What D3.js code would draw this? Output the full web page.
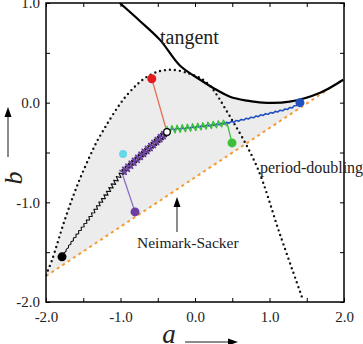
<!DOCTYPE html>
<html>
<head>
<meta charset="utf-8">
<title>bifurcation diagram</title>
<script src="https://cdnjs.cloudflare.com/ajax/libs/d3/7.8.5/d3.min.js"></script>
<style>
  body { margin: 0; background: #fff; }
  svg { display: block; }
</style>
</head>
<body>
<div id="container"></div>
<script>
// ---- data (a, b) ----
var tangentA = [-1.01, -0.74, -0.47, -0.20, 0.07, 0.24, 0.47, 0.70, 0.91, 1.27, 1.68, 1.99];
var tangentB = [ 1.00,  0.82,  0.63,  0.37, 0.23, 0.15, 0.06, 0.02, 0.00, 0.01, 0.10, 0.23];

var pdA = [-2.00, -1.92, -1.75, -1.57, -1.37, -1.28, -0.91, -0.60, -0.34, -0.07, 0.16,  0.47,  0.83,  1.14,  1.44];
var pdB = [-1.73, -1.58, -1.18, -0.81, -0.47, -0.34,  0.08,  0.28,  0.33,  0.29, 0.20, -0.14, -0.64, -1.32, -1.96];

var nsA = [-2.0, 2.0];
var nsB = [-1.74, 0.24];

// orbits
var blackA = [-1.785, -1.64, -1.41, -1.18, -0.98, -0.68, -0.376];
var blackB = [-1.547, -1.38, -1.15, -0.91, -0.705, -0.50, -0.294];
var purpleA = [-0.98, -0.68, -0.376];
var purpleB = [-0.705, -0.50, -0.294];
var greenA = [-0.376, 0.03, 0.43];
var greenB = [-0.273, -0.243, -0.203];
var blueA = [-0.376, 0.03, 0.43, 0.91, 1.315, 1.409];
var blueB = [-0.273, -0.243, -0.203, -0.123, -0.043, 0.0];

// end points and connectors
var dotNames = ["red", "purple", "cyan", "green", "blue", "black"];
var dotA = [-0.58, -0.805, -0.966, 0.497, 1.409, -1.785];
var dotB = [ 0.24, -1.096, -0.514, -0.404, 0.0, -1.547];
var dotColor = ["#e41a1c", "#6b3fa0", "#62d8ea", "#3dbf3d", "#2150c0", "#000"];
var linkFromA = [-0.58, -0.805, 0.497];
var linkFromB = [ 0.24, -1.096, -0.404];
var linkToA = [-0.376, -0.98, 0.43];
var linkToB = [-0.294, -0.705, -0.203];
var linkColor = ["#e8705a", "#8a6cc0", "#3dbf3d"];
var centerA = -0.376, centerB = -0.294;

var xTicks = [-2, -1.5, -1, -0.5, 0, 0.5, 1, 1.5, 2];
var yTicks = [-2, -1.5, -1, -0.5, 0, 0.5, 1];

// ---- layout ----
var W = 363, H = 344;
var mLeft = 46, mRight = 344, mTop = 3, mBottom = 302;
var serif = "'Liberation Serif', 'Times New Roman', 'DejaVu Serif', serif";

var svg = d3.select("#container").append("svg")
    .attr("width", W).attr("height", H);

var x = d3.scaleLinear().domain([-2, 2]).range([mLeft, mRight]);
var y = d3.scaleLinear().domain([-2, 1]).range([mBottom, mTop]);

function zip(A, B) { return A.map(function(a, i) { return [a, B[i]]; }); }

var line = d3.line().x(function(d) { return x(d[0]); }).y(function(d) { return y(d[1]); });

svg.append("clipPath").attr("id", "clip").append("rect")
    .attr("x", mLeft).attr("y", mTop).attr("width", mRight - mLeft).attr("height", mBottom - mTop);

var plot = svg.append("g").attr("clip-path", "url(#clip)");

// shaded region: under period-doubling / tangent, above Neimark-Sacker line
var region = zip(pdA, pdB).filter(function(d) { return d[0] < 0; })
  .concat(zip(tangentA, tangentB).filter(function(d) { return d[0] > 0 && d[0] < dotA[4]; }))
  .concat([[dotA[4], dotB[4]]]);
var nsAt = function(a) { return nsB[0] + (a - nsA[0]) * (nsB[1] - nsB[0]) / (nsA[1] - nsA[0]); };
var lower = [[dotA[4], nsAt(dotA[4])], [nsA[0], nsB[0]]];
plot.append("path")
    .attr("d", d3.line().x(function(d) { return x(d[0]); }).y(function(d) { return y(d[1]); })
      .curve(d3.curveCatmullRom)(region) + "L" + lower.map(function(d) { return x(d[0]) + "," + y(d[1]); }).join("L") + "Z")
    .attr("fill", "#ececec");

// Neimark-Sacker line
plot.append("path").attr("d", line(zip(nsA, nsB)))
    .attr("fill", "none").attr("stroke", "#f39c33").attr("stroke-width", 2)
    .attr("stroke-dasharray", "3,3.5");

// period-doubling curve
plot.append("path").attr("d", line.curve(d3.curveCatmullRom)(zip(pdA, pdB)))
    .attr("fill", "none").attr("stroke", "#111").attr("stroke-width", 2.4)
    .attr("stroke-linecap", "round").attr("stroke-dasharray", "0,5");

// tangent curve
plot.append("path").attr("d", line.curve(d3.curveCatmullRom)(zip(tangentA, tangentB)))
    .attr("fill", "none").attr("stroke", "#000").attr("stroke-width", 2.2);

// zigzag drawn along a centre line (period-2 orbit look)
function zigzag(A, B, color, amp0, amp1, step, width) {
  var tmp = svg.append("path").attr("d", line.curve(d3.curveCatmullRom)(zip(A, B))).attr("fill", "none");
  var node = tmp.node(), L = node.getTotalLength(), pts = [], k = 0;
  for (var s = 0; s <= L; s += step, k++) {
    var p = node.getPointAtLength(s), q = node.getPointAtLength(Math.min(L, s + 0.5)), r = node.getPointAtLength(Math.max(0, s - 0.5));
    var dx = q.x - r.x, dy = q.y - r.y, n = Math.sqrt(dx * dx + dy * dy) || 1;
    var amp = amp0 + (amp1 - amp0) * (s / L);
    var sg = (k % 2) ? 1 : -1;
    pts.push([p.x - dy / n * amp * sg, p.y + dx / n * amp * sg]);
  }
  tmp.remove();
  plot.append("path").attr("d", d3.line()(pts))
      .attr("fill", "none").attr("stroke", color).attr("stroke-width", width)
      .attr("stroke-linejoin", "round");
}

// connectors
for (var i = 0; i < linkFromA.length; i++) {
  plot.append("path").attr("d", line.curve(d3.curveLinear)([[linkFromA[i], linkFromB[i]], [linkToA[i], linkToB[i]]]))
      .attr("stroke", linkColor[i]).attr("stroke-width", 1.3).attr("fill", "none");
}

zigzag(blueA, blueB, "#2150c0", 0.6, 0.6, 2.5, 1.6);
zigzag(blackA, blackB, "#111", 0.4, 3.4, 2.2, 1.1);
zigzag(purpleA, purpleB, "#6b3fa0", 3.8, 3.8, 2.2, 1.7);
zigzag(greenA, greenB, "#3dbf3d", 3.8, 3.2, 2.6, 1.5);

// end dots
svg.selectAll(".dot").data(d3.range(dotNames.length)).enter().append("circle")
    .attr("class", "dot")
    .attr("cx", function(i) { return x(dotA[i]); })
    .attr("cy", function(i) { return y(dotB[i]); })
    .attr("r", function(i) { return dotNames[i] == "cyan" ? 4 : 4.5; })
    .attr("fill", function(i) { return dotColor[i]; });

svg.append("circle").attr("cx", x(centerA)).attr("cy", y(centerB)).attr("r", 3.3)
    .attr("fill", "#fff").attr("stroke", "#000").attr("stroke-width", 1.2);

// ---- axes ----
function fmt(d) { return d % 1 === 0 ? (d < 0 ? "-" : "") + Math.abs(d).toFixed(1) : ""; }

svg.append("g").attr("transform", "translate(0," + mBottom + ")")
   .call(d3.axisBottom(x).tickValues(xTicks).tickFormat(fmt).tickSizeInner(-4).tickSizeOuter(0).tickPadding(9));
svg.append("g").attr("transform", "translate(0," + mTop + ")")
   .call(d3.axisTop(x).tickValues(xTicks).tickFormat("").tickSizeInner(-4).tickSizeOuter(0));
svg.append("g").attr("transform", "translate(" + mLeft + ",0)")
   .call(d3.axisLeft(y).tickValues(yTicks).tickFormat(fmt).tickSizeInner(-4).tickSizeOuter(0).tickPadding(6));
svg.append("g").attr("transform", "translate(" + mRight + ",0)")
   .call(d3.axisRight(y).tickValues(yTicks).tickFormat("").tickSizeInner(-4).tickSizeOuter(0));

svg.selectAll(".domain").remove();
svg.selectAll(".tick line").attr("stroke", "#000").attr("stroke-width", 1);
svg.selectAll(".tick text").attr("fill", "#222").attr("font-size", 15)
   .attr("font-family", serif);

svg.append("rect").attr("x", mLeft).attr("y", mTop).attr("width", mRight - mLeft).attr("height", mBottom - mTop)
   .attr("fill", "none").attr("stroke", "#000").attr("stroke-width", 1.5);

// ---- labels ----
function label(tx, ty, str, size) {
  return svg.append("text").attr("x", tx).attr("y", ty).text(str)
     .attr("font-family", serif).attr("font-size", size).attr("fill", "#222");
}
label(160, 44, "tangent", 20);
label(260, 173, "period-doubling", 16);
label(137, 248, "Neimark-Sacker", 15.5);

svg.append("text").attr("transform", "translate(22,178) rotate(-90)")
   .attr("text-anchor", "middle").text("b").attr("font-family", serif)
   .attr("font-size", 26).attr("font-style", "italic").attr("fill", "#222");
svg.append("text").attr("x", 169).attr("y", 343).attr("text-anchor", "middle").text("a")
   .attr("font-family", serif)
   .attr("font-size", 27).attr("font-style", "italic").attr("fill", "#222");

// arrows
function arrow(x1, y1, x2, y2) {
  var ang = Math.atan2(y2 - y1, x2 - x1), hl = 10, hw = 3.5;
  var bx = x2 - hl * Math.cos(ang), by = y2 - hl * Math.sin(ang);
  svg.append("line").attr("x1", x1).attr("y1", y1).attr("x2", bx).attr("y2", by)
     .attr("stroke", "#666").attr("stroke-width", 1.5);
  svg.append("path")
     .attr("d", "M" + x2 + "," + y2 +
                "L" + (bx - hw * Math.sin(ang)) + "," + (by + hw * Math.cos(ang)) +
                "L" + (bx + hw * Math.sin(ang)) + "," + (by - hw * Math.cos(ang)) + "Z")
     .attr("fill", "#000");
}
arrow(177, 232, 177, 197);
arrow(8, 157, 8, 107);
arrow(185, 342, 238, 342);
</script>
</body>
</html>
